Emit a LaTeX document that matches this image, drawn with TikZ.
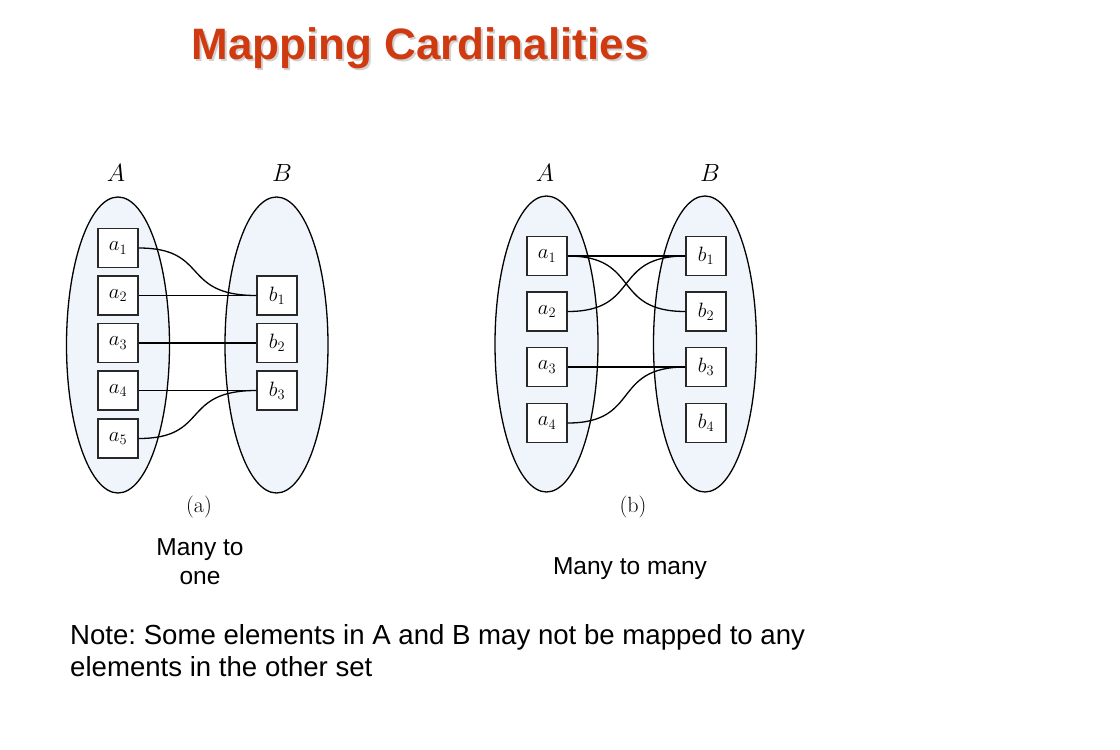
\documentclass[tikz,border=0pt]{standalone}
\usepackage{fontspec}
\newfontfamily\sansfont{Liberation Sans}
\usetikzlibrary{shapes.geometric}
\definecolor{titlered}{RGB}{208,58,16}
\definecolor{setfill}{RGB}{240,245,251}
\definecolor{edgecol}{RGB}{40,40,40}
\frenchspacing
\begin{document}
\begin{tikzpicture}[x=1pt,y=-1pt,
  setshape/.style={ellipse, draw=black, line width=1.3pt, fill=setfill, minimum width=103pt, minimum height=296pt, inner sep=0pt},
  elem/.style={draw=edgecol, line width=1.3pt, fill=white, minimum width=40pt, minimum height=39pt, inner sep=0pt, font=\fontsize{20}{22}\selectfont},
  link/.style={draw=black, line width=1.3pt},
  setlabel/.style={font=\fontsize{24}{26}\selectfont},
  caplabel/.style={font=\fontsize{22}{24}\selectfont},
  sanstext/.style={font=\sansfont\fontsize{24.5}{29}\selectfont, align=center}
]
\useasboundingbox (0,0) rectangle (1120,750);
% title
\node[text=gray!35, font=\sansfont\bfseries\fontsize{44}{50}\selectfont] (titleshadow) at (422,50) {Mapping Cardinalities};
\node[text=titlered, font=\sansfont\bfseries\fontsize{44}{50}\selectfont] (title) at (420,48) {Mapping Cardinalities};

% ---------- (a) many to one ----------
\node[setshape] (LA) at (118,345) {};
\node[setshape] (LB) at (276.5,345) {};
\node[setlabel] (LAlab) at (116,173) {$A$};
\node[setlabel] (LBlab) at (282,173) {$B$};
\node[elem] (la1) at (118,248) {$a_1$};
\node[elem] (la2) at (118,295.5) {$a_2$};
\node[elem] (la3) at (118,343) {$a_3$};
\node[elem] (la4) at (118,390.5) {$a_4$};
\node[elem] (la5) at (118,438.5) {$a_5$};
\node[elem] (lb1) at (277,295.5) {$b_1$};
\node[elem] (lb2) at (277,343) {$b_2$};
\node[elem] (lb3) at (277,390.5) {$b_3$};
\draw[link] (la1.east) .. controls (210,248) and (180,295.5) .. (lb1.west);
\draw[link] (la2.east) -- (lb1.west);
\draw[link] (la3.east) -- (lb2.west);
\draw[link] (la4.east) -- (lb3.west);
\draw[link] (la5.east) .. controls (210,438.5) and (180,390.5) .. (lb3.west);
\node[caplabel] (capa) at (199,507) {(a)};
\node[sanstext] (mto) at (200,562) {Many to\\one};

% ---------- (b) many to many ----------
\node[setshape] (RA) at (546.5,344) {};
\node[setshape] (RB) at (705,344) {};
\node[setlabel] (RAlab) at (545,173) {$A$};
\node[setlabel] (RBlab) at (710,173) {$B$};
\node[elem] (ra1) at (547,256) {$a_1$};
\node[elem] (ra2) at (547,311.5) {$a_2$};
\node[elem] (ra3) at (547,367) {$a_3$};
\node[elem] (ra4) at (547,423) {$a_4$};
\node[elem] (rb1) at (706,256) {$b_1$};
\node[elem] (rb2) at (706,311.5) {$b_2$};
\node[elem] (rb3) at (706,367) {$b_3$};
\node[elem] (rb4) at (706,423) {$b_4$};
\draw[link] (ra1.east) -- (rb1.west);
\draw[link] (ra1.east) .. controls (641,256) and (611,311.5) .. (rb2.west);
\draw[link] (ra2.east) .. controls (641,311.5) and (611,256) .. (rb1.west);
\draw[link] (ra3.east) -- (rb3.west);
\draw[link] (ra4.east) .. controls (641,423) and (611,367) .. (rb3.west);
\node[caplabel] (capb) at (633,507) {(b)};
\node[sanstext] (mtm) at (630,569) {Many to many};

% note
\node[font=\sansfont\fontsize{27.6}{32}\selectfont, align=left, anchor=west, inner sep=0pt] (note) at (70,651) {Note: Some elements in A and B may not be mapped to any\\elements in the other set};
\end{tikzpicture}
\end{document}
